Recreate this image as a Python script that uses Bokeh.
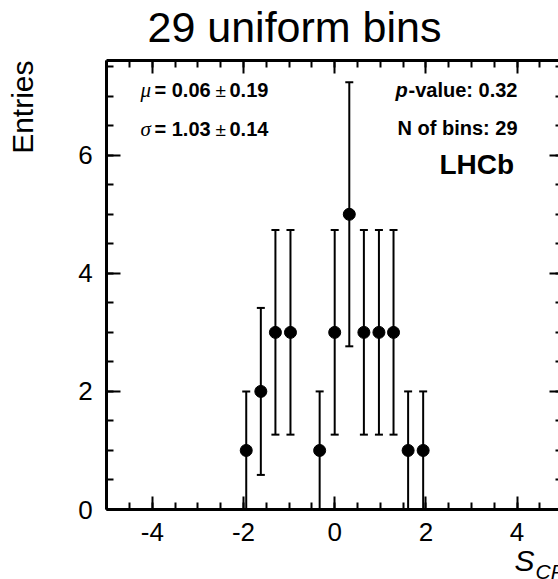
import math
from bokeh.plotting import figure
from bokeh.models import (ColumnDataSource, Range1d, LinearAxis, SingleIntervalTicker,
                          Label, CustomJSTickFormatter)
from bokeh.embed import file_html
from bokeh.resources import INLINE

# ---------------- data ----------------
title_text = "29 uniform bins"
y_title = "Entries"
x_title_main = "S"
x_title_sub = "CP"
bin_centers = [-1.94, -1.62, -1.30, -0.97, -0.33, 0.00, 0.32, 0.64, 0.97, 1.29, 1.61, 1.94]
entries = [1, 2, 3, 3, 1, 3, 5, 3, 3, 3, 1, 1]
x_axis_min, x_axis_max = -5.0, 5.0
y_axis_min, y_axis_max = 0.0, 7.6
mu_val, mu_err = "0.06", "0.19"
sigma_val, sigma_err = "1.03", "0.14"
p_value = "0.32"
n_bins = "29"
experiment = "LHCb"

# ---------------- layout (pixels) ----------------
W, H = 558, 579
PX_PER_X, X_ZERO_PX = 45.6, 334.2     # horizontal scale of the frame
PX_PER_Y, Y_ZERO_PX = 59.04, 509.0    # vertical scale of the frame
FONT = "Liberation Sans"
BASE_SHIFT = 0.36                      # empirical baseline correction (fraction of font size)


def dx(px):
    return (px - X_ZERO_PX) / PX_PER_X


def dy(py):
    return (Y_ZERO_PX - py) / PX_PER_Y


errs = [math.sqrt(n) for n in entries]
src = ColumnDataSource(dict(
    x=bin_centers, y=entries,
    lo=[n - e for n, e in zip(entries, errs)],
    hi=[n + e for n, e in zip(entries, errs)],
))

# the drawing area covers the whole canvas; the axes are fixed at the box edges
p = figure(width=W, height=H, x_range=Range1d(dx(0), dx(W)), y_range=Range1d(dy(H), dy(0)),
           output_backend="svg", toolbar_location=None,
           x_axis_location=None, y_axis_location=None, min_border=0)
p.outline_line_color = None
p.background_fill_color = "white"
p.border_fill_color = "white"
p.grid.visible = False


def make_axis(loc, bounds, tick_in, minor_in, show_labels, standoff=14):
    ax = LinearAxis(fixed_location=loc, bounds=bounds,
                    ticker=SingleIntervalTicker(interval=2, num_minor_ticks=4))
    ax.axis_line_width = 3
    ax.axis_line_color = "black"
    ax.major_tick_in = tick_in
    ax.major_tick_out = 0
    ax.minor_tick_in = minor_in
    ax.minor_tick_out = 0
    ax.major_tick_line_width = 2
    ax.minor_tick_line_width = 2
    ax.major_tick_line_color = "black"
    ax.minor_tick_line_color = "black"
    ax.major_label_text_font = FONT
    ax.major_label_text_color = "black"
    ax.major_label_text_font_size = "26px"
    if show_labels:
        ax.formatter = CustomJSTickFormatter(code="return tick.toFixed(0)")
        ax.major_label_standoff = standoff
    else:
        ax.formatter = CustomJSTickFormatter(code="return ''")
        ax.major_label_standoff = 0
    return ax


p.add_layout(make_axis(y_axis_min, (x_axis_min, x_axis_max), 13, 7, True, standoff=13), "below")
p.add_layout(make_axis(x_axis_min, (y_axis_min, y_axis_max), 14, 7, True, standoff=14), "left")
p.add_layout(make_axis(y_axis_max, (x_axis_min, x_axis_max), 13, 7, False), "above")
p.add_layout(make_axis(x_axis_max, (y_axis_min, y_axis_max), 13, 7, False), "right")

# error bars, caps and markers
p.segment(x0="x", y0="lo", x1="x", y1="hi", source=src, line_width=2, line_color="black")
p.scatter(x="x", y="hi", source=src, marker="dash", size=8, line_width=2, line_color="black")
p.scatter(x="x", y="lo", source=src, marker="dash", size=8, line_width=2, line_color="black")
p.scatter(x="x", y="y", source=src, size=12, fill_color="black", line_color="black")


def add_text(text, px, py, size, style="normal", font=FONT, align="left", rotated=False):
    """px, py: wanted position of the text baseline start (pixels from top-left)."""
    if rotated:
        px, angle = px - BASE_SHIFT * size, math.pi / 2
    else:
        py, angle = py - BASE_SHIFT * size, 0.0
    p.add_layout(Label(x=dx(px), y=dy(py), text=text, text_font=font,
                       text_font_size=f"{size}px", text_font_style=style,
                       text_align=align, text_baseline="alphabetic", angle=angle,
                       text_color="black"))


add_text(title_text, 147, 42, 43)
add_text(y_title, 33, 60, 30, align="right", rotated=True)
add_text(x_title_main, 514, 571, 30, style="italic")
add_text(x_title_sub, 535, 579, 21, style="italic")

for greek, val, err, base in (("\u03bc", mu_val, mu_err, 97), ("\u03c3", sigma_val, sigma_err, 136)):
    add_text(greek, 140, base, 21, style="italic", font="Liberation Serif")
    add_text("= " + val, 154, base, 20, style="bold")
    add_text("\u00b1", 215, base, 19)
    add_text(err, 229, base, 20, style="bold")

add_text("p", 395, 97, 20, style="bold italic")
add_text("-value: " + p_value, 408, 97, 20, style="bold")
add_text("N of bins: " + n_bins, 397, 135, 20, style="bold")
add_text(experiment, 439, 174, 28, style="bold")

open("out.html", "w").write(file_html(p, INLINE))
